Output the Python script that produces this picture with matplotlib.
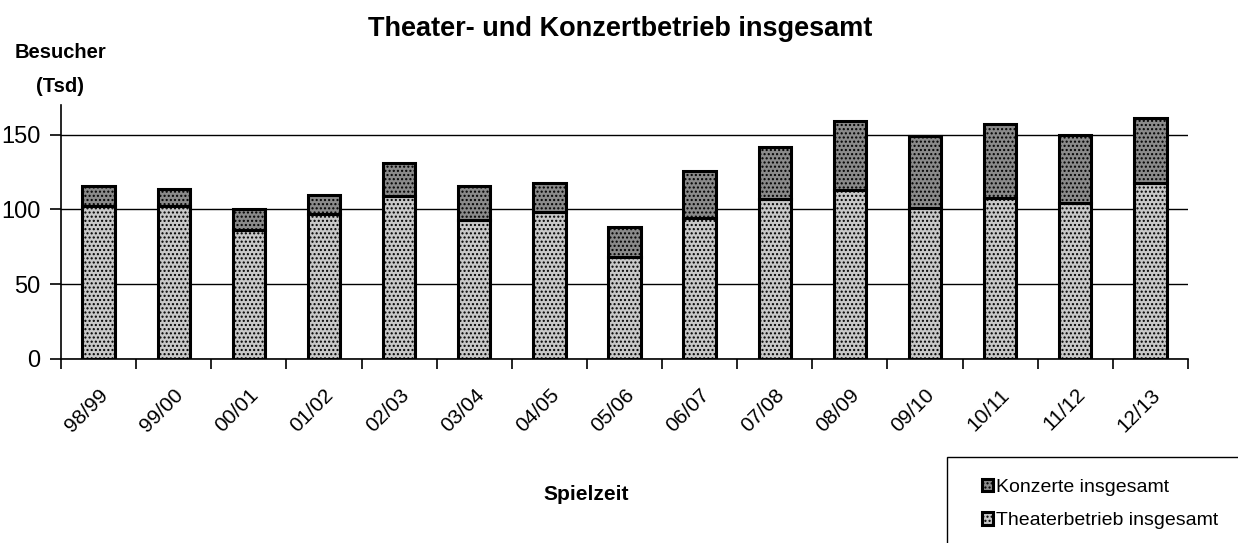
import matplotlib
matplotlib.use("Agg")
import matplotlib.pyplot as plt
import matplotlib.transforms as mtransforms
from matplotlib.patches import Rectangle
import numpy as np

seasons = ["98/99", "99/00", "00/01", "01/02", "02/03", "03/04", "04/05", "05/06",
           "06/07", "07/08", "08/09", "09/10", "10/11", "11/12", "12/13"]
theater = [102, 102, 86, 97, 109, 93, 98, 68, 94, 107, 113, 101, 108, 104, 118]
konzerte = [14, 12, 14, 13, 22, 23, 20, 20, 32, 35, 46, 48, 49, 46, 43]
yticks = [0, 50, 100, 150]

plt.rcParams['font.family'] = ['Liberation Sans', 'DejaVu Sans']
plt.rcParams['hatch.color'] = '#555555'

fig = plt.figure(figsize=(12.38, 5.43), dpi=100)
ax = fig.add_axes([61/1238, 1-358.7/543, (1188-61)/1238, (358.7-105)/543])

x = np.arange(len(seasons))
w = 0.43
c_theater = "#c8c8c8"
c_konz = "#8a8a8a"
ax.bar(x, theater, w, color=c_theater, edgecolor="black", linewidth=2.2,
       hatch="....", label="Theaterbetrieb insgesamt", zorder=3)
ax.bar(x, konzerte, w, bottom=theater, color=c_konz, edgecolor="black", linewidth=2.2,
       hatch="....", label="Konzerte insgesamt", zorder=3)

ax.set_xlim(-0.5, len(seasons) - 0.5)
ax.set_ylim(0, 170)
ax.set_yticks(yticks)
ax.set_yticklabels([str(v) for v in yticks], fontsize=17)
ax.yaxis.grid(True, color="black", linewidth=1.0, zorder=0)
ax.set_axisbelow(True)

ax.set_xticks(np.arange(-0.5, len(seasons), 1.0))
ax.set_xticklabels([])
ax.set_xticks(x, minor=True)
ax.set_xticklabels(seasons, minor=True, rotation=45, ha="right",
                   rotation_mode="anchor", fontsize=15)
offset = mtransforms.ScaledTranslation(3/100, 0, fig.dpi_scale_trans)
for lab in ax.get_xticklabels(minor=True):
    lab.set_transform(lab.get_transform() + offset)
ax.tick_params(axis="x", which="major", direction="out", length=7, width=1.2)
ax.tick_params(axis="x", which="minor", length=0, pad=19)
ax.tick_params(axis="y", direction="out", length=8, width=1.2, pad=7)

for s in ["top", "right"]:
    ax.spines[s].set_visible(False)
for s in ["left", "bottom"]:
    ax.spines[s].set_linewidth(1.2)

fig.text(620/1238, 1-29/543, "Theater- und Konzertbetrieb insgesamt",
         ha="center", va="center", fontsize=19.5, fontweight="bold")
fig.text(61/1238, 1-52/543, "Besucher", ha="center", va="center",
         fontsize=14.5, fontweight="bold")
fig.text(60/1238, 1-87/543, "(Tsd)", ha="center", va="center",
         fontsize=14.5, fontweight="bold")
fig.text(586/1238, 1-495/543, "Spielzeit", ha="center", va="center",
         fontsize=15, fontweight="bold")

# legend box extending past the figure edge
rect = Rectangle((947/1238, -0.05), 0.3, (543-457)/543 + 0.05,
                 transform=fig.transFigure, facecolor="white",
                 edgecolor="black", linewidth=1.0, clip_on=False)
fig.patches.append(rect)
handles, labels = ax.get_legend_handles_labels()
leg = fig.legend(handles[::-1], labels[::-1], loc="upper left",
                 bbox_to_anchor=(972/1238, 1-469/543), frameon=False,
                 fontsize=14, handlelength=0.6, handleheight=0.6,
                 handletextpad=0.15, labelspacing=0.85, borderpad=0)

fig.savefig("out.png", dpi=100)
